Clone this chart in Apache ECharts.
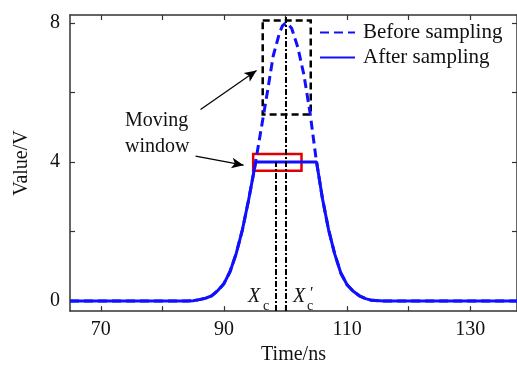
<!DOCTYPE html>
<html>
  <head>
    <meta charset="utf-8" />
    <title>Moving window</title>
    <script src="https://cdn.jsdelivr.net/npm/echarts@6.0.0/dist/echarts.min.js"></script>
  </head>
  <body style="margin: 0">
    <div id="main" style="width: 517px; height: 370px"></div>
    <script type="text/javascript">
      // data
      var beforeTime = [65, 70, 75, 80, 84, 85, 86, 87, 88, 89, 90, 91, 92, 93, 94, 95, 96, 97, 98, 99, 99.5, 100, 100.5,
        101, 102, 103, 104, 105, 106, 107, 108, 109, 110, 111, 112, 113, 114, 116, 120, 130, 137.6];
      var beforeValue = [0, 0, 0, 0, 0, 0.01, 0.04, 0.08, 0.15, 0.3, 0.5, 0.85, 1.37, 2.05, 2.9, 3.85, 4.9, 5.95, 7.05, 7.7, 7.92, 8.0, 7.95,
        7.85, 7.3, 6.5, 5.4, 4.05, 2.95, 2.05, 1.35, 0.8, 0.47, 0.28, 0.15, 0.07, 0.02, 0, 0, 0, 0];
      var afterTime = [65, 70, 75, 80, 84, 85, 86, 87, 88, 89, 90, 91, 92, 93, 94, 95, 95.15,
        105.05, 106, 107, 108, 109, 110, 111, 112, 113, 114, 116, 120, 130, 137.6];
      var afterValue = [0, 0, 0, 0, 0, 0.01, 0.04, 0.08, 0.15, 0.3, 0.5, 0.85, 1.37, 2.05, 2.9, 3.85, 4,
        4, 2.95, 2.05, 1.35, 0.8, 0.47, 0.28, 0.15, 0.07, 0.02, 0, 0, 0, 0];
      var seriesNames = ["Before sampling", "After sampling"];

      var xTicks = [70, 80, 90, 100, 110, 120, 130];
      var xLabels = [70, 90, 110, 130];
      var yTicks = [0, 2, 4, 6, 8];
      var yLabels = [0, 4, 8];

      // annotations (data units)
      var windowBox = [[94.75, 4.23], [102.6, 3.75]];
      var peakBox = [[96.3, 8.07], [104.1, 5.37]];
      var xc = 98.4;
      var xcPrime = 100;
      var arrowPeak = [[86.2, 5.51], [95.3, 6.63]];
      var arrowWindow = [[85.4, 4.17], [93.2, 3.91]];

      var xMin = 65, xMax = 137.6, yMin = -0.29, yMax = 8.23;
      var font = "Liberation Serif";
      var axisCol = "#333";

      function pairs(xs, ys) {
        return xs.map(function (x, i) { return [x, ys[i]]; });
      }

      var axisCommon = {
        axisLine: { show: true, onZero: false, lineStyle: { color: axisCol, width: 1.5 } },
        axisTick: { show: true, inside: true, length: 5, lineStyle: { color: axisCol, width: 1.2 } },
        splitLine: { show: false },
      };

      var myChart = echarts.init(document.getElementById("main"));
      var option = {
        animation: false,
        backgroundColor: "#fff",
        grid: { left: 70, right: 0, top: 15, bottom: 57 },
        legend: {
          data: seriesNames,
          orient: "vertical",
          left: 319,
          top: 22,
          padding: 0,
          itemWidth: 35,
          itemHeight: 14,
          itemGap: 4,
          itemStyle: { opacity: 0 },
          textStyle: { fontFamily: font, fontSize: 21, color: "#111", padding: [0, 0, 0, 3] },
        },
        xAxis: [
          Object.assign({}, axisCommon, {
            type: "value", min: xMin, max: xMax, position: "bottom",
            name: "Time/ns", nameLocation: "middle", nameGap: 33,
            nameTextStyle: { fontFamily: font, fontSize: 20, color: "#111" },
            axisTick: Object.assign({}, axisCommon.axisTick, { customValues: xTicks }),
            axisLabel: { customValues: xLabels, fontFamily: font, fontSize: 20, color: "#111", margin: 9 },
          }),
          Object.assign({}, axisCommon, {
            type: "value", min: xMin, max: xMax, position: "top",
            axisTick: Object.assign({}, axisCommon.axisTick, { customValues: xTicks }),
            axisLabel: { show: false },
          }),
        ],
        yAxis: [
          Object.assign({}, axisCommon, {
            type: "value", min: yMin, max: yMax, position: "left",
            name: "Value/V", nameLocation: "middle", nameGap: 38,
            nameTextStyle: { fontFamily: font, fontSize: 20, color: "#111" },
            axisTick: Object.assign({}, axisCommon.axisTick, { customValues: yTicks }),
            axisLabel: { customValues: yLabels, fontFamily: font, fontSize: 20, color: "#111", margin: 10 },
          }),
          Object.assign({}, axisCommon, {
            type: "value", min: yMin, max: yMax, position: "right",
            axisTick: Object.assign({}, axisCommon.axisTick, { customValues: yTicks }),
            axisLabel: { show: false },
          }),
        ],
        series: [
          {
            name: seriesNames[0],
            type: "line",
            data: pairs(beforeTime, beforeValue),
            symbol: "none",
            color: "#1010ff",
            lineStyle: { width: 3, type: [9, 5], color: "#1010ff" },
            z: 2,
            markArea: {
              silent: true,
              itemStyle: { color: "rgba(0,0,0,0)", borderColor: "#000", borderWidth: 2.5, borderType: [7, 4] },
              data: [[{ coord: peakBox[0] }, { coord: peakBox[1] }]],
            },
            markLine: {
              silent: true,
              symbol: ["none", "none"],
              label: { show: false },
              lineStyle: { color: "#000", width: 2, type: [6, 2, 2, 2] },
              data: [
                [{ coord: [xc, yMin] }, { coord: [xc, 4] }],
                [{ coord: [xcPrime, yMin] }, { coord: [xcPrime, yMax] }],
              ],
            },
          },
          {
            name: seriesNames[1],
            type: "line",
            data: pairs(afterTime, afterValue),
            symbol: "none",
            color: "#1010ff",
            lineStyle: { width: 3, color: "#1010ff" },
            z: 3,
            markArea: {
              silent: true,
              itemStyle: { color: "rgba(0,0,0,0)", borderColor: "#e00000", borderWidth: 2.5 },
              data: [[{ coord: windowBox[0] }, { coord: windowBox[1] }]],
            },
            markLine: {
              silent: true,
              symbol: ["none", "arrow"],
              symbolSize: [8, 12],
              label: { show: false },
              lineStyle: { color: "#000", width: 1.2, type: "solid" },
              data: [
                [{ coord: arrowPeak[0] }, { coord: arrowPeak[1] }],
                [{ coord: arrowWindow[0] }, { coord: arrowWindow[1] }],
              ],
            },
          },
        ],
        graphic: [
          { type: "text", left: 125, top: 108, style: { text: "Moving\nwindow", fontFamily: font, fontSize: 20, lineHeight: 26, fill: "#111", align: "center" } },
          { type: "text", left: 248, top: 287, style: { text: "X", fontFamily: font, fontStyle: "italic", fontSize: 20, fill: "#111" } },
          { type: "text", left: 263, top: 299, style: { text: "c", fontFamily: font, fontSize: 14, fill: "#111" } },
          { type: "text", left: 293, top: 287, style: { text: "X", fontFamily: font, fontStyle: "italic", fontSize: 20, fill: "#111" } },
          { type: "text", left: 307, top: 299, style: { text: "c", fontFamily: font, fontSize: 14, fill: "#111" } },
          { type: "text", left: 310, top: 286, style: { text: "′", fontFamily: font, fontSize: 16, fill: "#111" } },
        ],
      };
      myChart.setOption(option);
    </script>
  </body>
</html>
